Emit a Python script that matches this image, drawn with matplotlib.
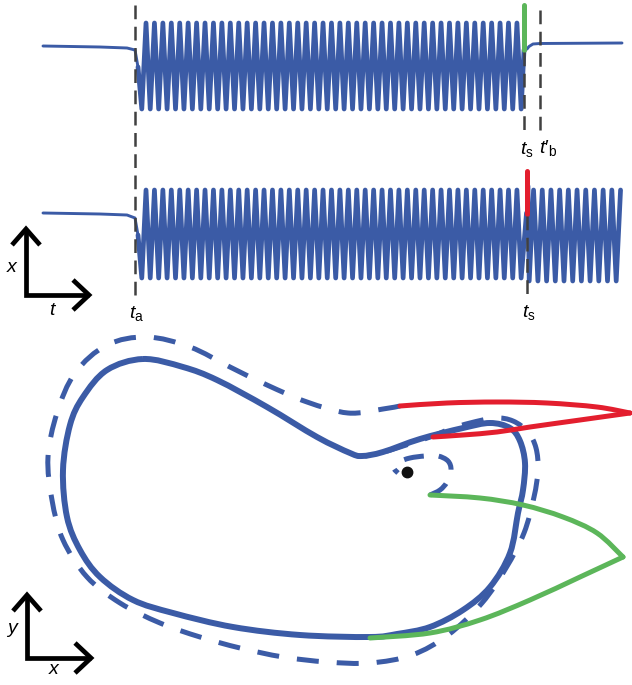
import numpy as np
import matplotlib.pyplot as plt
from matplotlib.path import Path
from matplotlib.patches import PathPatch

plt.rcParams['font.family'] = ['Liberation Sans', 'DejaVu Sans']
plt.rcParams['mathtext.fontset'] = 'custom'
plt.rcParams['mathtext.rm'] = 'Liberation Sans'
plt.rcParams['mathtext.it'] = 'Liberation Sans:italic'

BLUE = '#3b5ba6'
RED = '#e31e2e'
GREEN = '#5cb65a'
GREY = '#404040'

# everything is in picture pixels, y grows downwards

# time traces: resting part before t_a
rest_t = [43, 100, 127, 135, 138]
rest_top = [46, 47, 48, 50, 67]
rest_bot = [213, 214, 215, 218, 235]

# oscillation
first_trough = 141.8
period = 8.43
n_cycles = 45
top_hi, top_lo = 23, 109
bot_hi, bot_lo = 190, 278

# after the kick on the lower trace
after_trough = 529.2
after_period = 8.7
after_halfs = 21

# event times
ta = 135
ts_top = 524
tb_prime = 540
ts_bot = 527

# top trace after the green kick
tail_t = [524, 527, 529, 533, 540, 622]
tail_x = [50, 49, 46.5, 44, 43.5, 43]

# phase plane: limit cycle (closed)
cycle_pts = [(143, 359), (183, 367), (217, 380), (267, 407), (317, 437),
             (350, 453), (362, 456), (383, 452), (420, 439), (463, 428),
             (490, 423), (510, 428), (520, 441), (525, 463), (523, 490),
             (518, 513), (510, 553), (490, 587), (463, 610), (430, 627),
             (397, 634), (370, 637), (300, 635), (233, 627), (173, 613),
             (133, 600), (100, 577), (80, 550), (67, 517), (63, 470),
             (70, 425), (83, 397), (107, 370)]

# dashed trajectory returning to the cycle from outside
outer_pts = [(400, 406), (383, 409), (348, 413), (307, 402), (267, 385),
             (230, 367), (190, 347), (147, 337), (107, 345), (75, 373),
             (57, 413), (48, 457), (52, 500), (63, 540), (87, 577),
             (120, 603), (160, 623), (200, 637), (240, 648), (283, 657),
             (327, 662), (370, 663), (412, 655), (448, 635), (482, 603),
             (506, 568), (524, 533), (534, 497), (538, 470), (536, 448),
             (528, 432), (513, 421), (495, 418), (470, 423), (450, 429),
             (433, 436), (415, 442), (397, 448), (380, 453), (365, 456)]

# dashed spiral into the fixed point
spiral_pts = [(430, 495), (440, 490), (447, 482), (451, 470), (448, 461),
              (438, 456), (425, 456), (410, 458), (399, 462), (394, 468),
              (398, 473)]
fixed_pt = (407, 472)

# kicks
red_low = [(433, 437), (463, 435), (497, 432), (530, 427), (580, 420), (630, 413)]
red_up = [(630, 413), (597, 407), (547, 403), (497, 402), (447, 403), (400, 406)]
green_low = [(370, 638), (430, 633), (480, 620), (530, 600), (580, 577), (623, 557)]
green_up = [(623, 557), (597, 533), (563, 517), (523, 505), (480, 498), (430, 495)]


def smooth_path(pts, closed=False):
    p = np.asarray(pts, float)
    if closed:
        ext = np.vstack([p[-1], p, p[0], p[1]])
    else:
        ext = np.vstack([p[0], p, p[-1]])
    verts = [ext[1]]
    codes = [Path.MOVETO]
    for i in range(1, len(ext) - 2):
        p0, p1, p2, p3 = ext[i - 1], ext[i], ext[i + 1], ext[i + 2]
        verts += [p1 + (p2 - p0) / 6, p2 - (p3 - p1) / 6, p2]
        codes += [Path.CURVE4] * 3
    return Path(verts, codes)


def zigzag(t0, step, n, first, second):
    k = np.arange(n)
    return t0 + k * step, np.where(k % 2 == 0, first, second)


fig = plt.figure(figsize=(6.32, 6.85), dpi=100)
ax = fig.add_axes([0, 0, 1, 1])
ax.set_xlim(0, 632)
ax.set_ylim(685, 0)
ax.axis('off')

wave = dict(color=BLUE, lw=3.4, solid_joinstyle='round', solid_capstyle='round')
flat = dict(color=BLUE, lw=2.1, solid_capstyle='round')

# --- upper trace
wt, wx = zigzag(first_trough, period / 2, 2 * n_cycles + 1, top_lo, top_hi)
ax.plot(rest_t, rest_top, **flat)
ax.plot(np.r_[rest_t[-1], wt, ts_top], np.r_[rest_top[-1], wx, tail_x[0]], **wave)
ax.plot(tail_t, tail_x, **flat)
ax.plot([ts_top, ts_top], [tail_x[0], 4.5], color=GREEN, lw=3.6,
        solid_capstyle='round', zorder=4)

# --- lower trace
bt, bx = zigzag(first_trough, period / 2, 2 * n_cycles + 1, bot_lo, bot_hi)
at, ax_ = zigzag(after_trough, after_period / 2, after_halfs + 1, bot_lo + 3, bot_hi)
ax.plot(rest_t, rest_bot, **flat)
ax.plot(np.r_[rest_t[-1], bt, ts_bot - 0.5], np.r_[rest_bot[-1], bx, 213], **wave)
ax.plot(np.r_[ts_bot + 1, at], np.r_[186, ax_], **wave)
ax.plot([ts_bot, ts_bot], [214, 170.5], color=RED, lw=3.6,
        solid_capstyle='round', zorder=4)

# --- event lines
dash = dict(color=GREY, lw=1.8, ls=(0, (5.5, 3)), zorder=5)
ax.plot([ta, ta], [5, 302], **dash)
ax.plot([ts_top, ts_top], [52, 135], **dash)
ax.plot([tb_prime, tb_prime], [10, 133], **dash)
ax.plot([ts_bot, ts_bot], [216, 299], **dash)

lab = dict(ha='center', va='center', fontsize=14)
ax.text(137, 313, r'$t_{\mathrm{a}}$', **lab)
ax.text(527, 149, r'$t_{\mathrm{s}}$', **lab)
ax.text(548, 148, r'$t\prime_{\mathrm{b}}$', **lab)
ax.text(529, 312, r'$t_{\mathrm{s}}$', **lab)

# --- coordinate glyphs
arrow = dict(color='black', lw=3.4, solid_joinstyle='miter', solid_capstyle='butt')
ax.plot([26, 26, 89], [229, 295, 295], **arrow)
ax.plot([12, 26, 40], [245, 229, 245], **arrow)
ax.plot([73, 89, 73], [280, 295, 310], **arrow)
ax.text(13, 267, r'$x$', **lab)
ax.text(53, 310, r'$t$', **lab)

ax.plot([27, 27, 91], [595, 658, 658], **arrow)
ax.plot([13, 27, 41], [611, 595, 611], **arrow)
ax.plot([75, 91, 75], [643, 658, 673], **arrow)
ax.text(13, 630, r'$y$', **lab)
ax.text(55, 670, r'$x$', **lab)

# --- phase plane
ax.add_patch(PathPatch(smooth_path(cycle_pts, closed=True), fill=False,
                       ec=BLUE, lw=4.3, joinstyle='round'))
ax.add_patch(PathPatch(smooth_path(outer_pts), fill=False, ec=BLUE, lw=3.6,
                       ls=(0, (4.4, 3.6)), capstyle='butt'))
ax.add_patch(PathPatch(smooth_path(spiral_pts), fill=False, ec=BLUE, lw=3.6,
                       ls=(0, (4.0, 3.0)), capstyle='butt'))
for branch, col in [(red_low, RED), (red_up, RED), (green_low, GREEN), (green_up, GREEN)]:
    ax.add_patch(PathPatch(smooth_path(branch), fill=False, ec=col, lw=3.6,
                           capstyle='round', zorder=3))
ax.plot(*fixed_pt, 'o', color='#111111', ms=7.5, zorder=4)

fig.savefig('out.png', dpi=100)
